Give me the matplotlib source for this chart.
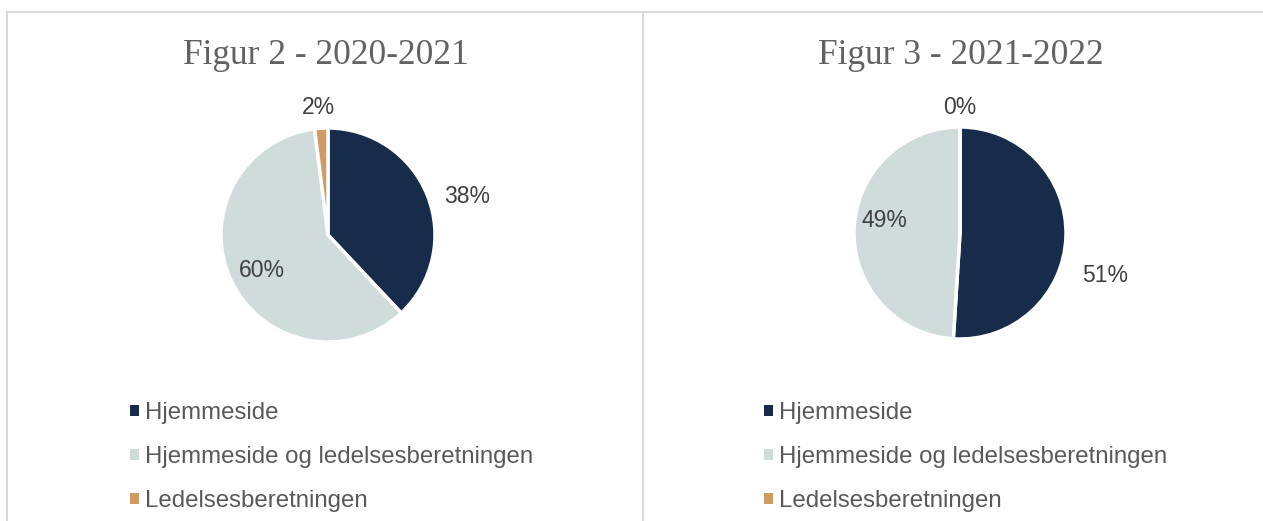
import matplotlib.pyplot as plt
from matplotlib.lines import Line2D
from matplotlib.patches import Patch

# data
categories = ["Hjemmeside", "Hjemmeside og ledelsesberetningen", "Ledelsesberetningen"]
values_2021 = [38, 60, 2]
values_2022 = [51, 49, 0]
titles = ["Figur 2 - 2020-2021", "Figur 3 - 2021-2022"]

colors = ["#172B4B", "#D0DCDC", "#D09A65"]
W, H = 1263, 521


def px_axes(fig, cx, cy, r):
    # axes box in figure fractions from pixel center/radius
    return fig.add_axes([(cx - r) / W, (H - cy - r) / H, 2 * r / W, 2 * r / H])


def draw_pie(fig, values, center, radius, label_pos, title, title_x, legend_x):
    ax = px_axes(fig, center[0], center[1], radius)
    ax.pie(
        values,
        colors=colors,
        startangle=90,
        counterclock=False,
        radius=1.0,
        wedgeprops=dict(edgecolor="white", linewidth=2.5),
    )
    ax.set_xlim(-1, 1)
    ax.set_ylim(-1, 1)
    ax.set_aspect("equal")
    ax.axis("off")
    for v, (x, y) in zip(values, label_pos):
        ax.text(x, y, f"{v}%", ha="center", va="center", fontsize=16.5,
                color="#404040", family="Liberation Sans", clip_on=False)

    fig.text(title_x / W, 1 - 64 / H, title, ha="center", va="baseline",
             fontsize=25.5, color="#626262", family="Liberation Serif")

    handles = [Patch(facecolor=c, edgecolor="none") for c in colors]
    leg = fig.legend(
        handles, categories,
        loc="upper left",
        bbox_to_anchor=(legend_x / W, 1 - 402 / H),
        frameon=False,
        prop=dict(family="Liberation Sans", size=17.3),
        handlelength=0.36, handleheight=0.36,
        handletextpad=0.25, labelspacing=0.92,
        borderpad=0, borderaxespad=0,
    )
    for t in leg.get_texts():
        t.set_color("#595959")


fig = plt.figure(figsize=(W / 100, H / 100), dpi=100)

draw_pie(fig, values_2021, (328, 235), 107,
         [(1.30, 0.36), (-0.62, -0.33), (-0.09, 1.19)],
         titles[0], 326, 130)
draw_pie(fig, values_2022, (960, 233), 106,
         [(1.37, -0.40), (-0.71, 0.12), (0.0, 1.18)],
         titles[1], 961, 764)

# panel borders
border = "#D9D9D9"
fig.add_artist(Line2D([7 / W, 7 / W], [0, 1 - 12 / H], color=border, lw=1.5))
fig.add_artist(Line2D([7 / W, 1], [1 - 12 / H, 1 - 12 / H], color=border, lw=1.5))
fig.add_artist(Line2D([643 / W, 643 / W], [0, 1 - 12 / H], color=border, lw=1.5))

fig.savefig("out.png", dpi=100)
